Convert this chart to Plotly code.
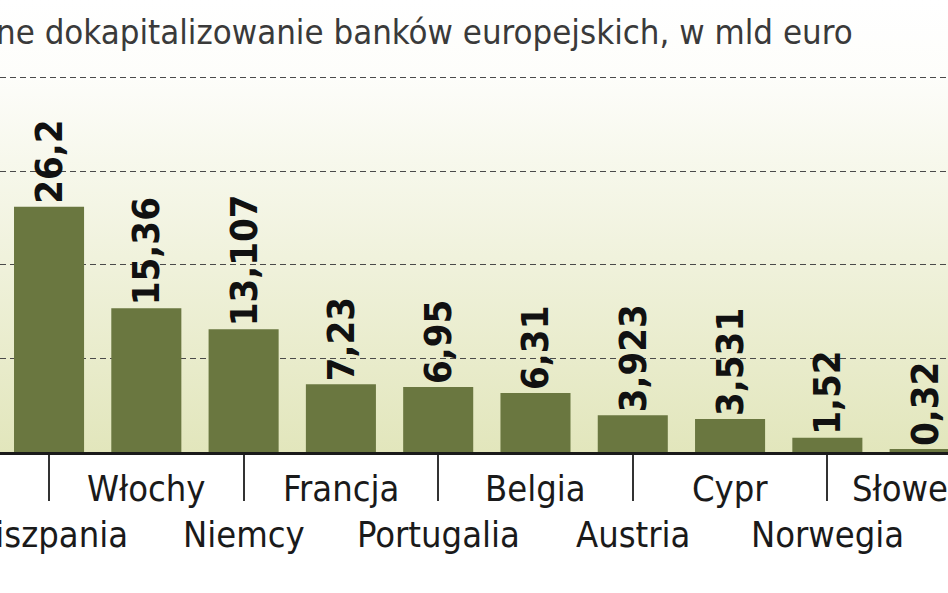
import base64
import plotly.graph_objects as go

categories = ["Hiszpania", "Włochy", "Niemcy", "Francja", "Portugalia",
              "Belgia", "Austria", "Cypr", "Norwegia", "Słowenia"]
values = [26.2, 15.36, 13.107, 7.23, 6.95, 6.31, 3.923, 3.531, 1.52, 0.32]
value_labels = [str(v).replace(".", ",") for v in values]
grid_ticks = [10, 20, 30, 40]
title_text = "ne dokapitalizowanie banków europejskich, w mld euro"

W, H = 948, 593
plot_h = 452
px_per_unit = 9.36

xpos = list(range(len(categories)))

svg = ('<svg xmlns="http://www.w3.org/2000/svg" width="10" height="100" preserveAspectRatio="none">'
       '<defs><linearGradient id="g" x1="0" y1="0" x2="0" y2="1">'
       '<stop offset="0" stop-color="#ffffff"/>'
       '<stop offset="0.17" stop-color="#fdfdfa"/>'
       '<stop offset="1" stop-color="#e2e6bc"/>'
       '</linearGradient></defs>'
       '<rect width="10" height="100" fill="url(#g)"/></svg>')
bg_uri = "data:image/svg+xml;base64," + base64.b64encode(svg.encode()).decode()

fig = go.Figure()
fig.add_trace(go.Bar(
    x=xpos, y=values, width=0.72,
    marker=dict(color="#6a7740", line=dict(width=0)),
    text=value_labels, textposition="outside", textangle=-90,
    constraintext="none", cliponaxis=False,
    textfont=dict(family="DejaVu Sans Condensed, sans-serif",
                  size=38, color="#111111", weight="bold"),
    hoverinfo="skip",
))

label_font = dict(family="DejaVu Sans Condensed, sans-serif",
                  size=36, color="#1a1a1a")
annotations = []
for i, name in enumerate(categories):
    upper = (i % 2 == 1)
    annotations.append(dict(
        x=i, xref="x", y=0, yref="paper", text=name, showarrow=False,
        xanchor="center", yanchor="middle",
        yshift=-(488 - plot_h) if upper else -(534 - plot_h),
        font=label_font,
    ))
annotations.append(dict(
    x=0, xref="paper", y=1, yref="paper", text=title_text, showarrow=False,
    xanchor="left", yanchor="middle", yshift=-32, xshift=-6,
    font=dict(family="DejaVu Sans Condensed, sans-serif",
              size=34.5, color="#3a3a3a"),
))

fig.update_layout(
    width=W, height=H,
    margin=dict(l=0, r=0, t=0, b=H - plot_h, pad=0),
    paper_bgcolor="white", plot_bgcolor="rgba(0,0,0,0)",
    showlegend=False,
    annotations=annotations,
    images=[dict(source=bg_uri, xref="paper", yref="paper", x=0, y=1,
                 sizex=1, sizey=1, sizing="stretch", xanchor="left",
                 yanchor="top", layer="below")],
    xaxis=dict(range=[-0.504, 9.24], tickvals=xpos[0::2], ticktext=[""] * 5,
               ticks="outside", ticklen=46, tickwidth=2, tickcolor="#333333",
               showline=True, linecolor="#1a1a1a", linewidth=3,
               showgrid=False, zeroline=False, layer="below traces", fixedrange=True),
    yaxis=dict(range=[0, plot_h / px_per_unit], tickvals=grid_ticks,
               showticklabels=False, showgrid=True, gridcolor="#4a4a4a",
               gridwidth=1.2, griddash="6px,4px", zeroline=False, fixedrange=True),
)

fig.write_html("out.html", config={"displayModeBar": False},
               post_script="document.body.style.margin='0';document.body.style.overflow='hidden';")
